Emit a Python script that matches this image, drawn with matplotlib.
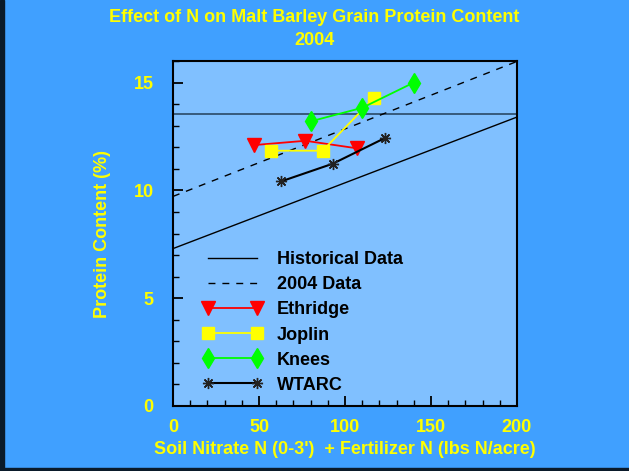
import matplotlib
matplotlib.use("Agg")
import matplotlib.pyplot as plt
from matplotlib.patches import Rectangle
from matplotlib.ticker import MultipleLocator

plt.rcParams['font.family'] = ['Liberation Sans', 'DejaVu Sans']
plt.rcParams['font.weight'] = 'bold'

# Data
hist_x = [0, 200]
hist_y = [7.3, 13.4]
d2004_x = [0, 200]
d2004_y = [9.72, 15.98]
threshold = 13.55

eth_x = [47, 77, 107]
eth_y = [12.1, 12.3, 11.95]
jop_x = [57, 87, 117]
jop_y = [11.84, 11.84, 14.3]
kne_x = [80, 110, 140]
kne_y = [13.2, 13.83, 15.0]
wta_x = [63, 93, 123]
wta_y = [10.42, 11.24, 12.42]

YEL = '#FFFF00'
fig = plt.figure(figsize=(6.29, 4.71), dpi=100)
fig.patch.set_facecolor('#40A0FF')
ax = fig.add_axes([173/629, 65/471, 344/629, 345/471])
ax.set_facecolor('#80C0FF')

ax.axhline(threshold, color='#2A4A66', lw=1.2, zorder=1)
ax.plot(hist_x, hist_y, color='black', lw=1.0, label='Historical Data')
ax.plot(d2004_x, d2004_y, color='black', lw=1.0, ls=(0, (5, 5)), label='2004 Data')
ax.plot(eth_x, eth_y, color='red', lw=1.3, marker='v', ms=9.5, mfc='red', mec='red', label='Ethridge')
ax.plot(jop_x, jop_y, color=YEL, lw=1.3, marker='s', ms=8.5, mfc=YEL, mec=YEL, label='Joplin')
ax.plot(kne_x, kne_y, color='#00FF00', lw=1.3, marker='d', ms=10.5, mfc='#00FF00', mec='#00FF00', label='Knees')
ax.plot(wta_x, wta_y, color='black', lw=1.5, marker=(8, 2, 0), ms=8, mec='#222222', mew=1.0, label='WTARC')

ax.set_xlim(0, 200)
ax.set_ylim(0, 16)
ax.xaxis.set_major_locator(MultipleLocator(50))
ax.xaxis.set_minor_locator(MultipleLocator(10))
ax.yaxis.set_major_locator(MultipleLocator(5))
ax.yaxis.set_minor_locator(MultipleLocator(1))
ax.tick_params(which='both', direction='in', colors='black', labelcolor=YEL, labelsize=13)
ax.tick_params(which='major', length=7, width=1.3)
ax.tick_params(which='minor', length=4, width=1.0)
ax.tick_params(axis='x', which='major', pad=9)
ax.tick_params(axis='y', which='major', pad=14)
for lbl in ax.get_xticklabels() + ax.get_yticklabels():
    lbl.set_fontweight('bold')
for s in ax.spines.values():
    s.set_linewidth(1.5)
    s.set_color('black')

ax.set_xlabel("Soil Nitrate N (0-3')  + Fertilizer N (lbs N/acre)", color=YEL, fontsize=13, fontweight='bold', labelpad=4)
ax.set_ylabel("Protein Content (%)", color=YEL, fontsize=13, fontweight='bold', labelpad=16)

fig.text(0.5, 0.962, "Effect of N on Malt Barley Grain Protein Content", color=YEL,
         fontsize=13, fontweight='bold', ha='center', va='center')
fig.text(0.5, 0.913, "2004", color=YEL, fontsize=13, fontweight='bold', ha='center', va='center')

leg = ax.legend(loc='upper left', bbox_to_anchor=(0.06, 0.475), frameon=False, numpoints=2,
                handlelength=3.3, handletextpad=0.8, labelspacing=0.45, borderpad=0,
                prop={'weight': 'bold', 'size': 13})
for t in leg.get_texts():
    t.set_color('black')

# dark border on left and bottom of figure
fig.add_artist(Rectangle((0, 0), 4/629, 1, transform=fig.transFigure, color='#0A1A2A', zorder=10))
fig.add_artist(Rectangle((0, 0), 1, 3/471, transform=fig.transFigure, color='#0A1A2A', zorder=10))

fig.savefig('out.png', dpi=100, facecolor=fig.get_facecolor())
